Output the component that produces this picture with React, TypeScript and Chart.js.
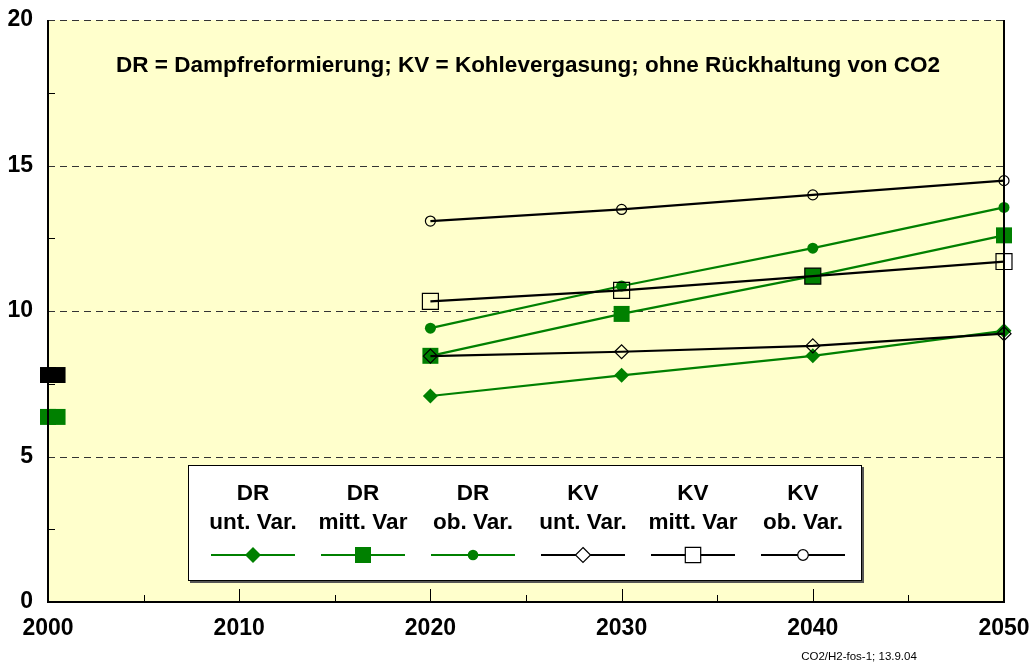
import React, { useEffect, useRef } from "react";
import { Chart, registerables } from "chart.js";

Chart.register(...registerables);

const years = [2020, 2030, 2040, 2050];
const drUnt = [7.08, 7.79, 8.46, 9.32];
const drMitt = [8.46, 9.9, 11.2, 12.6];
const drOb = [9.41, 10.86, 12.16, 13.56];
const kvUnt = [8.45, 8.6, 8.8, 9.22];
const kvMitt = [10.33, 10.71, 11.2, 11.7];
const kvOb = [13.09, 13.49, 13.99, 14.48];
const start2000X = [2000, 2000.5];
const start2000Black = [7.8, 7.8];
const start2000Green = [6.36, 6.36];

const legendTop = ["DR", "DR", "DR", "KV", "KV", "KV"];
const legendBottom = ["unt. Var.", "mitt. Var", "ob. Var.", "unt. Var.", "mitt. Var", "ob. Var."];

const titleText = "DR = Dampfreformierung; KV = Kohlevergasung; ohne Rückhaltung von CO2";
const footerText = "CO2/H2-fos-1; 13.9.04";

const GREEN = "#008000";
const BLACK = "#000000";
const BG = "#FFFFCC";
const FONT = "'Liberation Sans', Arial, Helvetica, sans-serif";

function pts(xs: number[], ys: number[]) {
  return xs.map((x, i) => ({ x, y: ys[i] }));
}

function drawMarker(ctx: CanvasRenderingContext2D, style: string, x: number, y: number, r: number, color: string, filled: boolean) {
  ctx.save();
  ctx.beginPath();
  if (style === "diamond") {
    ctx.moveTo(x, y - r);
    ctx.lineTo(x + r, y);
    ctx.lineTo(x, y + r);
    ctx.lineTo(x - r, y);
    ctx.closePath();
  } else if (style === "square") {
    ctx.rect(x - r, y - r, 2 * r, 2 * r);
  } else {
    ctx.arc(x, y, r, 0, Math.PI * 2);
  }
  if (filled) {
    ctx.fillStyle = color;
    ctx.fill();
  } else {
    ctx.fillStyle = "#ffffff";
    ctx.fill();
    ctx.lineWidth = 1.2;
    ctx.strokeStyle = color;
    ctx.stroke();
  }
  ctx.restore();
}

const decorPlugin = {
  id: "decor",
  beforeDraw(chart: any) {
    const { ctx, chartArea: a } = chart;
    ctx.save();
    ctx.fillStyle = BG;
    ctx.fillRect(a.left, a.top, a.right - a.left, a.bottom - a.top);
    ctx.restore();
  },
  beforeDatasetsDraw(chart: any) {
    const { ctx, chartArea: a, scales } = chart;
    const y = scales.y;
    ctx.save();
    ctx.strokeStyle = "#333";
    ctx.lineWidth = 1;
    ctx.setLineDash([7, 5]);
    [5, 10, 15, 20].forEach((v) => {
      const py = Math.round(y.getPixelForValue(v)) + 0.5;
      ctx.beginPath();
      ctx.moveTo(a.left, py);
      ctx.lineTo(a.right, py);
      ctx.stroke();
    });
    ctx.restore();
    // title
    ctx.save();
    ctx.fillStyle = BLACK;
    ctx.font = `bold 22.5px ${FONT}`;
    ctx.textAlign = "center";
    ctx.textBaseline = "middle";
    ctx.fillText(titleText, (a.left + a.right) / 2 + 2, a.top + 46);
    ctx.restore();
  },
  afterDatasetsDraw(chart: any) {
    const { ctx, chartArea: a, scales } = chart;
    const x = scales.x;
    const y = scales.y;
    ctx.save();
    ctx.strokeStyle = BLACK;
    ctx.lineWidth = 2;
    ctx.beginPath();
    ctx.moveTo(a.left, a.top);
    ctx.lineTo(a.left, a.bottom);
    ctx.lineTo(a.right, a.bottom);
    ctx.lineTo(a.right, a.top);
    ctx.stroke();
    // y minor ticks
    ctx.lineWidth = 1;
    [2.5, 7.5, 12.5, 17.5].forEach((v) => {
      const py = Math.round(y.getPixelForValue(v)) + 0.5;
      ctx.beginPath();
      ctx.moveTo(a.left, py);
      ctx.lineTo(a.left + 7, py);
      ctx.stroke();
    });
    // x ticks
    [2010, 2020, 2030, 2040].forEach((v) => {
      const px = Math.round(x.getPixelForValue(v)) + 0.5;
      ctx.beginPath();
      ctx.moveTo(px, a.bottom);
      ctx.lineTo(px, a.bottom - 13);
      ctx.stroke();
    });
    [2005, 2015, 2025, 2035, 2045].forEach((v) => {
      const px = Math.round(x.getPixelForValue(v)) + 0.5;
      ctx.beginPath();
      ctx.moveTo(px, a.bottom);
      ctx.lineTo(px, a.bottom - 7);
      ctx.stroke();
    });
    ctx.restore();

    // legend box
    const bx = a.left + 140;
    const by = a.top + 445;
    const bw = 674;
    const bh = 116;
    ctx.save();
    ctx.fillStyle = "#555";
    ctx.fillRect(bx + 2, by + 2, bw, bh);
    ctx.fillStyle = "#ffffff";
    ctx.fillRect(bx, by, bw, bh);
    ctx.strokeStyle = BLACK;
    ctx.lineWidth = 1;
    ctx.strokeRect(bx + 0.5, by + 0.5, bw - 1, bh - 1);
    const styles = ["diamond", "square", "circle", "diamond", "square", "circle"];
    const radii = [8, 8, 5.3, 7.5, 7.7, 5.3];
    for (let i = 0; i < 6; i++) {
      const cx = bx + 65 + i * 110;
      const color = i < 3 ? GREEN : BLACK;
      ctx.fillStyle = BLACK;
      ctx.font = `bold 22.5px ${FONT}`;
      ctx.textAlign = "center";
      ctx.textBaseline = "middle";
      ctx.fillText(legendTop[i], cx, by + 29);
      ctx.fillText(legendBottom[i], cx, by + 58);
      ctx.strokeStyle = color;
      ctx.lineWidth = 2;
      ctx.beginPath();
      ctx.moveTo(cx - 42, by + 90);
      ctx.lineTo(cx + 42, by + 90);
      ctx.stroke();
      drawMarker(ctx, styles[i], cx, by + 90, radii[i], color, i < 3);
    }
    ctx.restore();
  },
  afterDraw(chart: any) {
    const { ctx } = chart;
    ctx.save();
    ctx.fillStyle = BLACK;
    ctx.font = `11.5px ${FONT}`;
    ctx.textAlign = "center";
    ctx.textBaseline = "middle";
    ctx.fillText(footerText, 859, 657);
    ctx.restore();
  },
};

export default function App() {
  const ref = useRef<HTMLCanvasElement | null>(null);
  useEffect(() => {
    document.body.style.margin = "0";
    const canvas = ref.current!;
    const lineDs = (label: string, data: number[], color: string, style: any, radius: number, filled: boolean, order: number) => ({
      label,
      data: pts(years, data),
      borderColor: color,
      borderWidth: 2.2,
      pointStyle: style,
      pointRadius: radius,
      pointHoverRadius: radius,
      pointBackgroundColor: filled ? color : "rgba(0,0,0,0)",
      pointBorderColor: color,
      pointBorderWidth: filled ? 0 : 1.2,
      showLine: true,
      fill: false,
      tension: 0,
      clip: false as any,
      order,
    });
    const chart = new Chart(canvas, {
      type: "scatter",
      data: {
        datasets: [
          lineDs("KV ob. Var.", kvOb, BLACK, "circle", 5, false, 1),
          lineDs("KV mitt. Var", kvMitt, BLACK, "rect", 11.3, false, 2),
          lineDs("KV unt. Var.", kvUnt, BLACK, "rectRot", 7, false, 3),
          lineDs("DR ob. Var.", drOb, GREEN, "circle", 5.5, true, 4),
          lineDs("DR mitt. Var", drMitt, GREEN, "rect", 11.3, true, 5),
          lineDs("DR unt. Var.", drUnt, GREEN, "rectRot", 7.5, true, 6),
          {
            label: "2000 KV",
            data: pts(start2000X, start2000Black),
            pointStyle: "rect",
            pointRadius: 11.3,
            pointBackgroundColor: BLACK,
            pointBorderWidth: 0,
            showLine: false,
            clip: false as any,
            order: 7,
          },
          {
            label: "2000 DR",
            data: pts(start2000X, start2000Green),
            pointStyle: "rect",
            pointRadius: 11.3,
            pointBackgroundColor: GREEN,
            pointBorderWidth: 0,
            showLine: false,
            clip: false as any,
            order: 8,
          },
        ],
      },
      options: {
        animation: false,
        responsive: false,
        maintainAspectRatio: false,
        layout: { padding: { top: 20, right: 28, left: 0, bottom: 0 } },
        plugins: { legend: { display: false }, tooltip: { enabled: false } },
        events: [],
        scales: {
          x: {
            type: "linear",
            min: 2000,
            max: 2050,
            grid: { display: false, drawTicks: false },
            border: { display: false },
            ticks: {
              stepSize: 10,
              padding: 13,
              color: BLACK,
              font: { family: FONT, size: 23, weight: "bold" },
              maxRotation: 0,
              autoSkip: false,
              callback: (v: any) => String(v),
            },
            afterFit: (s: any) => {
              s.height = 62;
              s.paddingLeft = 0;
              s.paddingRight = 0;
            },
          },
          y: {
            min: 0,
            max: 20,
            grid: { display: false, drawTicks: false },
            border: { display: false },
            ticks: {
              stepSize: 5,
              padding: 15,
              color: BLACK,
              font: { family: FONT, size: 23, weight: "bold" },
            },
            afterFit: (s: any) => {
              s.width = 48;
              s.paddingTop = 0;
              s.paddingBottom = 0;
            },
          },
        },
      },
      plugins: [decorPlugin],
    });
    return () => chart.destroy();
  }, []);
  return (
    <div style={{ position: "absolute", left: 0, top: 0, width: 1032, height: 664 }}>
      <canvas ref={ref} width={1032} height={664} style={{ width: 1032, height: 664, display: "block" }} />
    </div>
  );
}
